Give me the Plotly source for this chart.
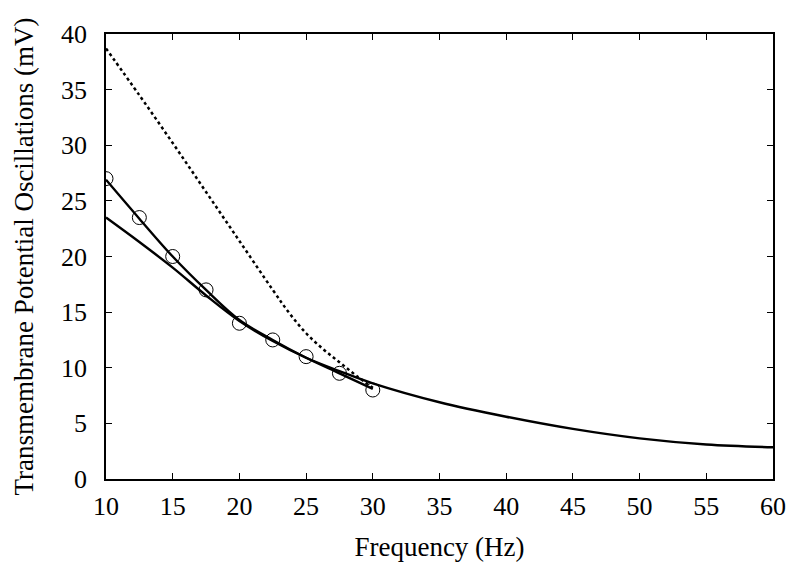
import plotly.graph_objects as go

# Measured data (open circles)
meas_freq = [10, 12.5, 15, 17.5, 20, 22.5, 25, 27.5, 30]
meas_amp = [27.0, 23.5, 20.0, 17.0, 14.0, 12.5, 11.0, 9.5, 8.0]

# Fit through measured points (solid, 10-30 Hz)
fit_freq = [10, 12.5, 15, 17.5, 20, 22.5, 25, 27.5, 30]
fit_amp = [26.9, 23.4, 20.0, 17.0, 14.3, 12.5, 10.9, 9.5, 8.1]

# Model curve (solid, 10-60 Hz)
model_freq = [10, 12.5, 15, 17.5, 20, 22.5, 25, 27.5, 30, 35, 40, 45, 50, 55, 60]
model_amp = [23.5, 21.3, 19.0, 16.5, 14.2, 12.4, 10.9, 9.7, 8.6, 6.9, 5.6, 4.5, 3.65, 3.1, 2.85]

# Alternative model (dotted, 10-30 Hz)
dot_freq = [10, 12.5, 15, 17.5, 20, 22.5, 23.75, 25, 26.25, 27.5, 28.75, 30]
dot_amp = [38.7, 34.5, 30.2, 25.8, 21.4, 17.0, 14.9, 13.1, 11.7, 10.5, 9.3, 8.2]

x_ticks = [10, 15, 20, 25, 30, 35, 40, 45, 50, 55, 60]
y_ticks = [0, 5, 10, 15, 20, 25, 30, 35, 40]

font_family = "Liberation Serif"

fig = go.Figure()
fig.add_trace(go.Scatter(x=dot_freq, y=dot_amp, mode="lines",
                         line=dict(color="black", width=2.5, dash="dot", shape="spline"),
                         showlegend=False))
fig.add_trace(go.Scatter(x=model_freq, y=model_amp, mode="lines",
                         line=dict(color="black", width=2.4, shape="spline"),
                         showlegend=False))
fig.add_trace(go.Scatter(x=fit_freq, y=fit_amp, mode="lines",
                         line=dict(color="black", width=2.4, shape="spline"),
                         showlegend=False))
fig.add_trace(go.Scatter(x=meas_freq, y=meas_amp, mode="markers",
                         marker=dict(symbol="circle-open", size=14, color="black",
                                     line=dict(width=1, color="black")),
                         showlegend=False))

axis_common = dict(showline=True, linecolor="black", linewidth=1.6, mirror="ticks",
                   ticks="inside", ticklen=6, tickwidth=1.2, tickcolor="black",
                   showgrid=False, zeroline=False,
                   tickfont=dict(family=font_family, size=26, color="black"))

fig.update_layout(
    width=792, height=569,
    paper_bgcolor="white", plot_bgcolor="white",
    font=dict(family=font_family, color="black"),
    margin=dict(l=98, r=27, t=18, b=98),
    xaxis=dict(range=[10, 60], tickvals=x_ticks, ticktext=[str(v) for v in x_ticks],
               ticklabelstandoff=3,
               title=dict(text="Frequency (Hz)", font=dict(family=font_family, size=27, color="black"),
                          standoff=17),
               **axis_common),
    yaxis=dict(range=[0, 40], tickvals=y_ticks, ticktext=[str(v) for v in y_ticks],
               ticklabelstandoff=12,
               title=dict(text="Transmembrane Potential Oscillations (mV)",
                          font=dict(family=font_family, size=27, color="black"), standoff=20),
               **axis_common),
)

fig.write_html("out.html")
